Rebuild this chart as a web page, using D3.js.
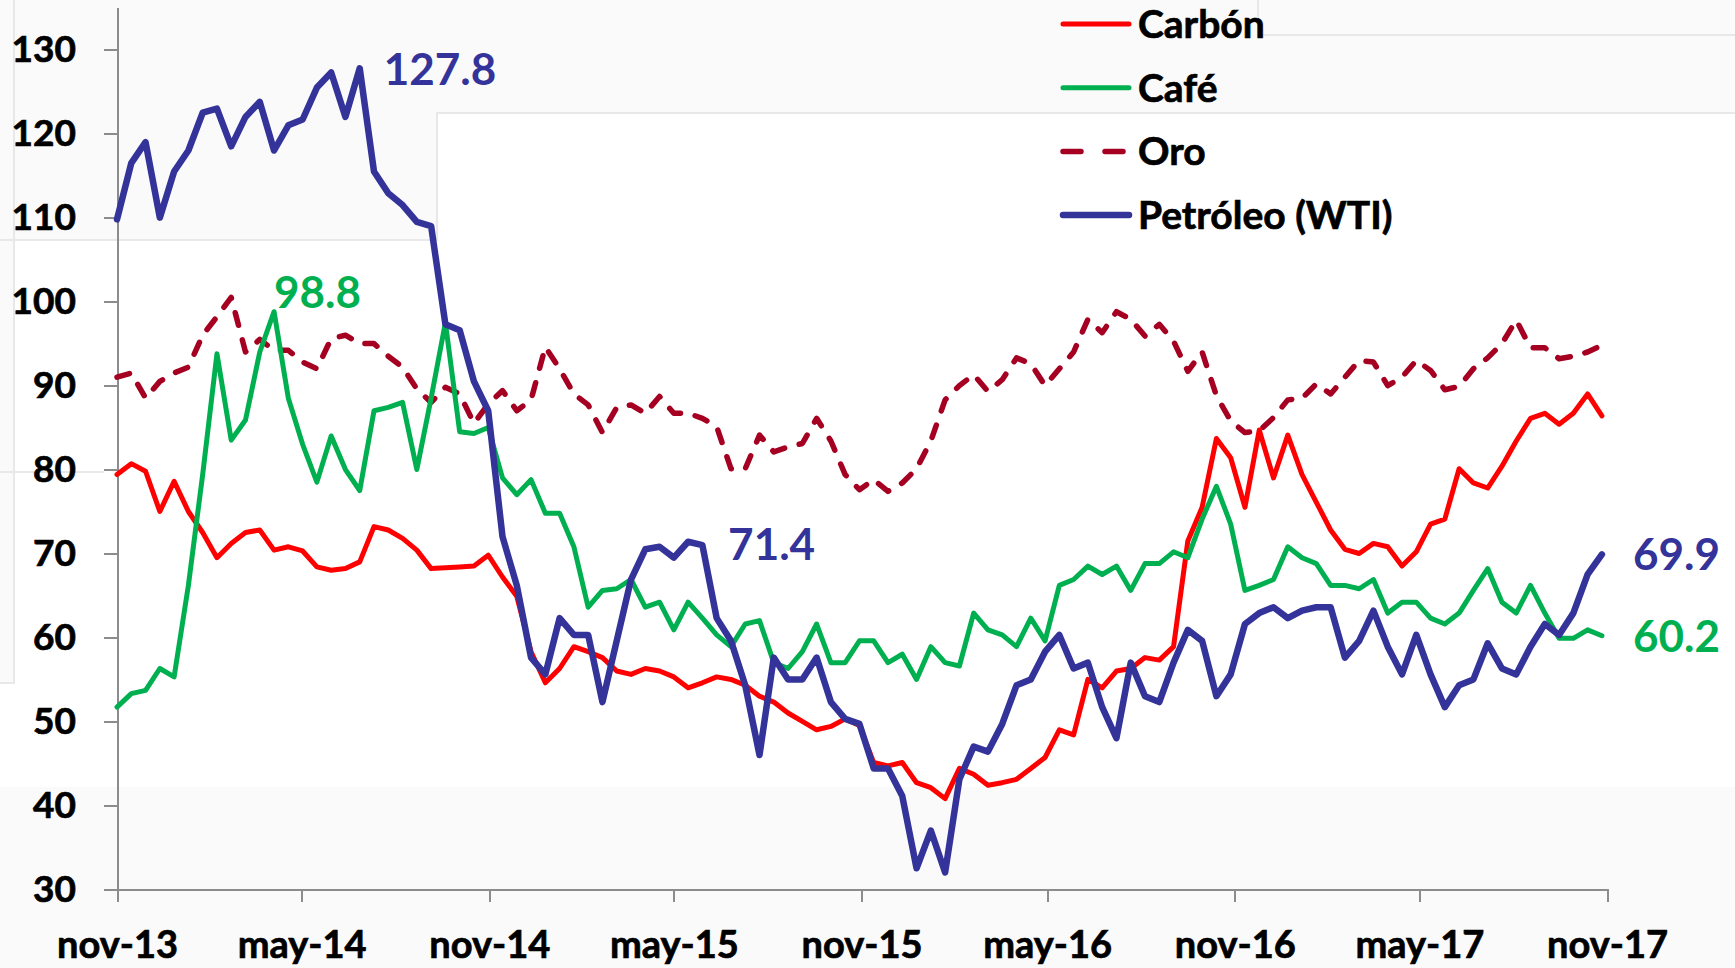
<!DOCTYPE html>
<html lang="es">
<head>
    <meta charset="UTF-8">
    <title>Precios de commodities</title>
    <script src="https://d3js.org/d3.v7.min.js"></script>
</head>

<style>
    body {
     margin: 0;
     background: #fafafa;
     font-family: Lato, "Open Sans", sans-serif;
    }
    .axis path,
    .axis line {
     fill: none;
     stroke: #8c8c8c;
     stroke-width: 2px;
     shape-rendering: crispEdges;
    }
    .axis text {
     font: bold 37px Lato, sans-serif;
     fill: #000;
     stroke: #000;
     stroke-width: 0.7px;
    }
    .x.axis text {
     font-size: 38px;
    }
    .legend text {
     font: bold 39px Lato, sans-serif;
     fill: #000;
     stroke: #000;
     stroke-width: 0.7px;
    }
    .note {
     font: bold 44px Lato, sans-serif;
    }
</style>
<body>
<script type="text/javascript">
    // series, one value every two weeks starting nov-2013
    var startDate = new Date(2013, 10, 1);
    var stepDays = 14;

    var carbon = [
        79.4, 80.7, 79.8, 75.0, 78.6, 75.0, 72.5, 69.5, 71.2, 72.5,
        72.8, 70.4, 70.8, 70.3, 68.4, 68.0, 68.2, 69.0, 73.2, 72.8,
        71.8, 70.4, 68.2, 68.3, 68.4, 68.5, 69.8, 67.2, 64.9, 58.3,
        54.6, 56.3, 58.9, 58.3, 57.6, 56.0, 55.6, 56.3, 56.0, 55.3,
        54.0, 54.6, 55.3, 55.0, 54.3, 53.0, 52.3, 51.0, 50.0, 49.0,
        49.4, 50.3, 49.5, 45.1, 44.7, 45.1, 42.7, 42.1, 40.8, 44.4,
        43.7, 42.4, 42.7, 43.1, 44.4, 45.7, 49.0, 48.4, 55.0, 54.0,
        56.0, 56.3, 57.6, 57.3, 58.9, 71.5, 75.5, 83.7, 81.4, 75.5,
        84.7, 79.0, 84.1, 79.4, 76.1, 72.8, 70.5, 70.0, 71.2, 70.8,
        68.5, 70.2, 73.5, 74.1, 80.1, 78.4, 77.8, 80.4, 83.4, 86.1,
        86.7, 85.4, 86.7, 89.0, 86.4
    ];

    var cafe = [
        51.7, 53.3, 53.7, 56.3, 55.3, 66.2, 79.4, 93.8, 83.5, 85.9,
        94.0, 98.8, 88.5, 83.0, 78.5, 84.0, 80.0, 77.5, 87.0, 87.4,
        88.0, 80.0, 88.5, 97.5, 84.5, 84.3, 85.0, 79.0, 77.0, 78.8,
        74.8, 74.8, 70.8, 63.6, 65.6, 65.8, 66.9, 63.6, 64.2, 60.9,
        64.2, 62.3, 60.3, 58.9, 61.6, 62.0, 57.0, 56.3, 58.3, 61.6,
        57.0, 57.0, 59.6, 59.6, 57.0, 58.0, 55.0, 58.9, 57.0, 56.6,
        62.9, 60.9, 60.3, 58.9, 62.3, 59.6, 66.2, 66.9, 68.5, 67.5,
        68.5, 65.6, 68.8, 68.8, 70.2, 69.5, 74.1, 78.0, 73.5, 65.6,
        66.2, 66.9, 70.8, 69.5, 68.8, 66.2, 66.2, 65.8, 66.9, 62.9,
        64.2, 64.2, 62.3, 61.6, 62.9, 65.6, 68.2, 64.2, 62.9, 66.2,
        62.9, 59.9, 59.9, 60.9, 60.2
    ];

    var oro = [
        91.0, 91.5, 88.5, 90.5, 91.5, 92.2, 96.0, 98.2, 100.5, 94.0,
        95.5, 94.2, 94.2, 92.8, 92.0, 95.6, 96.0, 95.0, 95.0, 93.5,
        92.2, 89.6, 88.0, 89.8, 89.0, 85.5, 87.8, 89.4, 87.0, 88.3,
        94.6, 92.0, 89.0, 87.7, 84.4, 87.4, 87.7, 86.7, 88.7, 86.7,
        86.7, 86.1, 85.1, 80.1, 80.1, 84.1, 82.1, 82.7, 83.1, 86.1,
        83.4, 79.4, 77.6, 78.8, 77.4, 78.4, 80.1, 83.4, 88.3, 90.0,
        91.3, 89.3, 90.7, 93.3, 92.6, 90.0, 92.0, 94.0, 97.9, 96.3,
        98.8, 97.9, 95.9, 97.3, 95.3, 91.7, 94.0, 88.8, 85.8, 84.4,
        84.6, 86.2, 88.3, 88.5, 90.2, 89.0, 91.0, 93.0, 92.8, 90.0,
        91.0, 93.0, 91.8, 89.5, 89.9, 92.0, 93.3, 95.0, 97.8, 94.5,
        94.5, 93.2, 93.5, 94.0, 94.8
    ];

    var petroleo = [
        109.8, 116.5, 119.0, 110.0, 115.5, 118.0, 122.5, 123.0, 118.5, 122.0,
        123.8, 118.0, 121.0, 121.7, 125.5, 127.3, 122.0, 127.8, 115.5, 112.9,
        111.5, 109.5, 109.0, 97.3, 96.6, 90.5, 87.0, 72.0, 66.2, 57.6,
        55.6, 62.3, 60.3, 60.3, 52.3, 59.6, 66.9, 70.5, 70.8, 69.5,
        71.4, 71.0, 62.3, 59.6, 54.3, 46.0, 57.6, 55.0, 55.0, 57.6,
        52.3, 50.3, 49.7, 44.4, 44.4, 41.1, 32.5, 37.0, 32.0, 43.1,
        47.0, 46.4, 49.7, 54.3, 55.0, 58.3, 60.3, 56.3, 57.0, 51.7,
        48.0, 57.0, 53.0, 52.3, 57.0, 60.9, 59.6, 53.0, 55.6, 61.6,
        62.9, 63.6, 62.3, 63.2, 63.6, 63.6, 57.6, 59.6, 63.2, 58.9,
        55.6, 60.3, 55.6, 51.7, 54.3, 55.0, 59.3, 56.3, 55.6, 58.9,
        61.6, 60.3, 62.9, 67.5, 69.9
    ];

    var seriesNames = ["Carbón", "Café", "Oro", "Petróleo (WTI)"];
    var seriesValues = [carbon, cafe, oro, petroleo];
    var seriesColors = ["#ff0000", "#00b050", "#a50021", "#333399"];

    var yTicks = [30, 40, 50, 60, 70, 80, 90, 100, 110, 120, 130];
    var xTickDates = [
        new Date(2013, 10, 1), new Date(2014, 4, 1), new Date(2014, 10, 1),
        new Date(2015, 4, 1), new Date(2015, 10, 1), new Date(2016, 4, 1),
        new Date(2016, 10, 1), new Date(2017, 4, 1), new Date(2017, 10, 1)
    ];
    var xTickLabels = ["nov-13", "may-14", "nov-14", "may-15", "nov-15",
                       "may-16", "nov-16", "may-17", "nov-17"];

    // data labels: text, series, point index
    var noteText = ["127.8", "98.8", "71.4", "69.9", "60.2"];
    var noteSerie = [3, 1, 3, 3, 1];
    var noteIndex = [17, 11, 40, 104, 104];

    var W = 1735, H = 968;
    var dates = carbon.map(function(d, i) { return d3.timeDay.offset(startDate, i * stepDays); });

    var x = d3.scaleTime()
        .domain([new Date(2013, 10, 1), new Date(2017, 10, 1)])
        .range([117, 1607]);
    var y = d3.scaleLinear()
        .domain([30, 135])
        .range([889.3, 7.8]);

    var svg = d3.select("body").append("svg")
        .attr("width", W)
        .attr("height", H)
        .style("display", "block");

    // faint gray page with the white chart sheet
    svg.append("rect")
        .attr("width", W).attr("height", H)
        .attr("fill", "#fafafa");
    svg.append("path")
        .attr("d", "M14,240 L437,240 L437,113 L1735,113 L1735,787 L0,787 L0,683 L14,683 Z")
        .attr("fill", "#ffffff");
    svg.append("path")
        .attr("d", "M0,240 L437,240 L437,113 L1735,113 M14,0 L14,683 L0,683 M1258,0 L1258,35 L1735,35 M0,472 L104,472")
        .attr("fill", "none")
        .attr("stroke", "#e8e8e8")
        .attr("stroke-width", 2);

    var yAxis = d3.axisLeft(y)
        .tickValues(yTicks)
        .tickSize(13)
        .tickSizeOuter(0)
        .tickPadding(28);
    var xAxis = d3.axisBottom(x)
        .tickValues(xTickDates)
        .tickFormat(function(d, i) { return xTickLabels[i]; })
        .tickSize(13)
        .tickSizeOuter(0)
        .tickPadding(29);

    svg.append("g")
        .attr("class", "y axis")
        .attr("transform", "translate(117,0)")
        .call(yAxis);
    svg.append("g")
        .attr("class", "x axis")
        .attr("transform", "translate(0,889.3)")
        .call(xAxis);
    svg.selectAll(".axis").attr("font-family", null).attr("font-size", null);

    var line = d3.line()
        .x(function(d, i) { return x(dates[i]); })
        .y(function(d) { return y(d); });

    var widths = [5, 5, 5.5, 6.5];
    // draw in order: oro, carbon, cafe, petroleo
    [2, 0, 1, 3].forEach(function(k) {
        svg.append("path")
            .datum(seriesValues[k])
            .attr("fill", "none")
            .attr("stroke", seriesColors[k])
            .attr("stroke-width", widths[k])
            .attr("stroke-linejoin", "round")
            .attr("stroke-linecap", "round")
            .attr("stroke-dasharray", k == 2 ? "13,15" : null)
            .attr("d", line);
    });

    // data labels
    var noteDx = [24, 0, 40, 31, 31];
    var noteDy = [17, -4, 18, 16, 16];
    svg.selectAll(".note")
        .data(noteText)
        .enter().append("text")
        .attr("class", "note")
        .attr("x", function(d, i) { return x(dates[noteIndex[i]]) + noteDx[i]; })
        .attr("y", function(d, i) { return y(seriesValues[noteSerie[i]][noteIndex[i]]) + noteDy[i]; })
        .attr("fill", function(d, i) { return seriesColors[noteSerie[i]]; })
        .text(function(d) { return d; });

    // legend
    var legend = svg.append("g")
        .attr("class", "legend")
        .attr("transform", "translate(1063,24)");
    var items = legend.selectAll(".item")
        .data(seriesNames)
        .enter().append("g")
        .attr("class", "item")
        .attr("transform", function(d, i) { return "translate(0," + (i * 63.7) + ")"; });
    items.append("line")
        .attr("x1", 0).attr("x2", function(d, i) { return i == 2 ? 63 : 66; })
        .attr("y1", 0).attr("y2", 0)
        .attr("stroke", function(d, i) { return seriesColors[i]; })
        .attr("stroke-width", function(d, i) { return widths[i]; })
        .attr("stroke-linecap", "round")
        .attr("stroke-dasharray", function(d, i) { return i == 2 ? "18,24" : null; });
    items.append("text")
        .attr("x", 75)
        .attr("y", 14)
        .text(function(d) { return d; });
</script>
</body>
</html>
